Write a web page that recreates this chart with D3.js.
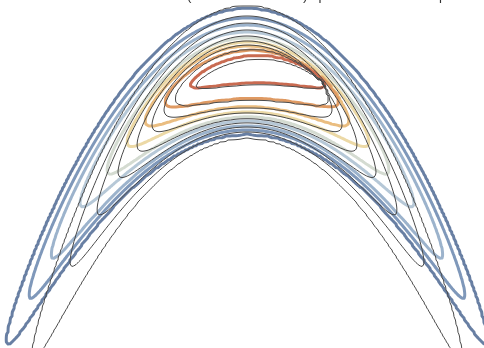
<!DOCTYPE html>
<html>
<head>
<meta charset="utf-8">
<script src="https://cdn.jsdelivr.net/npm/d3@7"></script>
<style>
  html, body { margin: 0; padding: 0; background: #fff; }
  svg { display: block; }
</style>
</head>
<body>
<svg id="chart" width="484" height="348"></svg>
<script>
// Level values, outermost to innermost
const levels = [1, 2, 3, 4, 5, 6, 7, 8, 9];
const levelColors = ["#687fa3", "#7f98ba", "#9cb3cc", "#b6c8d7", "#d4dbd1",
                     "#ecd9a6", "#eabd80", "#df9a63", "#c96b51"];

// Coloured level sets: ridge centre, half-span, arch top / bottom at the centre, tip height
const fillCx   = [0.05, 0.05, 0.05, 0.05, 0.06, 0.06, 0.05, 0.10, 0.16];
const fillSpan = [2.40, 2.18, 1.96, 1.67, 1.41, 1.21, 1.02, 0.87, 0.68];
const fillTop  = [3.39, 3.30, 3.23, 3.16, 3.10, 3.06, 3.02, 2.98, 2.93];
const fillBot  = [2.14, 2.18, 2.22, 2.27, 2.31, 2.36, 2.41, 2.49, 2.65];
const fillTip  = [0.08, 0.53, 0.93, 1.45, 1.78, 2.06, 2.27, 2.46, 2.63];

// Outline level sets (second surface)
const lineCx   = [0.05, 0.05, 0.05, 0.05, 0.05, 0.05, 0.06, 0.10, 0.18];
const lineSpan = [2.15, 1.77, 1.50, 1.29, 1.10, 0.95, 0.84, 0.77, 0.64];
const lineTop  = [3.42, 3.32, 3.25, 3.18, 3.12, 3.07, 3.03, 2.99, 2.89];
const lineBot  = [2.10, 2.16, 2.21, 2.25, 2.29, 2.35, 2.40, 2.47, 2.63];
const lineTip  = [-0.08, 0.86, 1.38, 1.76, 2.03, 2.23, 2.38, 2.49, 2.62];

const titleText = "Level sets of a curved crest (colour and outlines) up to the rescaled map";

const width = 484, height = 348;
const x = d3.scaleLinear().domain([-2.42, 2.42]).range([0, width]);
const y = d3.scaleLinear().domain([0, 3.48]).range([height, 0]);

// Sampling grid (extends past the frame so the outer curves close off-screen)
const step = 0.02, gx0 = -2.7, gy0 = -0.5;
const nx = Math.round((2.7 - gx0) / step) + 1;
const ny = Math.round((3.7 - gy0) / step) + 1;

// Field whose level set k is the bent ellipse described by entry k of the arrays
function ridgeField(cx, span, top, bot, tip) {
  const shapes = cx.map((c, i) => {
    const mid = (top[i] + bot[i]) / 2;
    return { c, U: span[i], mid, V: (top[i] - bot[i]) / 2, k: (mid - tip[i]) / (span[i] * span[i]) };
  });
  const radius = (s, px, py) => {
    const u = px - s.c;
    const w = py - (s.mid - s.k * u * u);
    return Math.hypot(u / s.U, w / s.V);
  };
  return (px, py) => {
    const r = shapes.map(s => radius(s, px, py));
    let i = -1;
    for (let j = 0; j < r.length; j++) if (r[j] <= 1) i = j;
    if (i < 0) return levels[0] - (r[0] - 1);
    if (i === r.length - 1) return levels[i] + (1 - r[i]);
    const d = r[i + 1] - r[i];
    return levels[i] + (d > 1e-9 ? Math.min(1, (1 - r[i]) / d) : 0.5);
  };
}

function sample(f) {
  const values = new Float64Array(nx * ny);
  for (let j = 0; j < ny; j++) {
    const py = gy0 + j * step;
    for (let i = 0; i < nx; i++) values[j * nx + i] = f(gx0 + i * step, py);
  }
  return values;
}

const contours = d3.contours().size([nx, ny]).thresholds(levels);
const path = d3.geoPath(d3.geoTransform({
  point(px, py) {
    this.stream.point(x(gx0 + (px - 0.5) * step), y(gy0 + (py - 0.5) * step));
  }
}));

const fillSets = contours(sample(ridgeField(fillCx, fillSpan, fillTop, fillBot, fillTip)));
const lineSets = contours(sample(ridgeField(lineCx, lineSpan, lineTop, lineBot, lineTip)));

const svg = d3.select("#chart");
const color = d3.scaleOrdinal().domain(levels).range(levelColors);

// Pass-through filter so the title is rasterised with plain greyscale antialiasing
svg.append("defs").append("filter")
  .attr("id", "flat-text")
  .attr("x", "-5%").attr("y", "-50%").attr("width", "110%").attr("height", "200%")
  .append("feOffset").attr("dx", 0).attr("dy", 0);

svg.append("g")
  .attr("fill", "none")
  .attr("stroke-width", 3)
  .attr("stroke-linejoin", "round")
  .selectAll("path")
  .data(fillSets)
  .join("path")
  .attr("stroke", d => color(d.value))
  .attr("d", path);

svg.append("g")
  .attr("fill", "none")
  .attr("stroke", "#4a4a4a")
  .attr("stroke-width", 1)
  .attr("stroke-linejoin", "round")
  .selectAll("path")
  .data(lineSets)
  .join("path")
  .attr("d", path);

// Title sits above the frame; only its descenders reach the top edge
const title = svg.append("text")
  .attr("y", -0.5)
  .attr("font-family", "Liberation Sans, Arial, sans-serif")
  .attr("font-size", 13.3)
  .attr("fill", "#333")
  .attr("filter", "url(#flat-text)")
  .text(titleText);
const paren = titleText.indexOf("(");
const off = title.node().getStartPositionOfChar(paren).x;
title.attr("x", 187 - off);
</script>
</body>
</html>
